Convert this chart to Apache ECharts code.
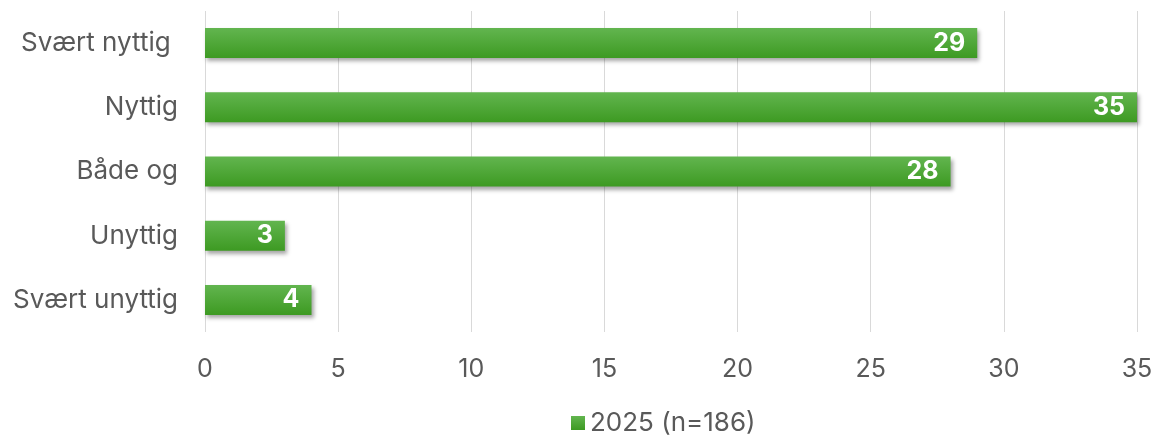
<!DOCTYPE html>
<html><head><meta charset="utf-8">
<script src="https://cdn.jsdelivr.net/npm/echarts@6/dist/echarts.min.js"></script>
<style>html,body{margin:0;padding:0;background:#fff}#c{width:1161px;height:441px}</style>
</head><body><div id="c"></div>
<script>
const categories = ['Svært nyttig ', 'Nyttig', 'Både og', 'Unyttig', 'Svært unyttig'];
const values = [29, 35, 28, 3, 4];
const seriesName = '2025 (n=186)';
const xTicks = [0, 5, 10, 15, 20, 25, 30, 35];

const chart = echarts.init(document.getElementById('c'), null, {renderer: 'canvas'});
const FONT = 'Inter, "Open Sans", sans-serif';
chart.setOption({
  animation: false,
  grid: {left: 205, right: 24, top: 11, bottom: 109, containLabel: false},
  legend: {
    bottom: 0, left: 566, itemWidth: 14, itemHeight: 14, itemGap: 6,
    icon: 'rect',
    textStyle: {fontFamily: FONT, fontSize: 26, color: '#595959', padding: [0, 0, 0, 0]},
    data: [seriesName]
  },
  xAxis: {
    type: 'value', min: xTicks[0], max: xTicks[xTicks.length - 1], interval: 5,
    axisLine: {show: false}, axisTick: {show: false},
    splitLine: {lineStyle: {color: '#d9d9d9', width: 1}},
    axisLabel: {fontFamily: FONT, fontSize: 25, color: '#595959', margin: 25}
  },
  yAxis: {
    type: 'category', data: categories, inverse: true,
    axisLine: {show: false}, axisTick: {show: false},
    axisLabel: {fontFamily: FONT, fontSize: 26, color: '#595959', margin: 27}
  },
  series: [{
    name: seriesName, type: 'bar', data: values, barWidth: 30,
    itemStyle: {
      color: new echarts.graphic.LinearGradient(0, 0, 0, 1, [
        {offset: 0, color: '#62b54f'}, {offset: 1, color: '#3d9a22'}
      ]),
      shadowColor: 'rgba(0,0,0,0.35)', shadowBlur: 4, shadowOffsetX: 2, shadowOffsetY: 3
    },
    label: {
      show: true, position: 'insideRight', distance: 12,
      fontFamily: FONT, fontSize: 25, fontWeight: 'bold', color: '#fff'
    }
  }]
});
</script></body></html>
